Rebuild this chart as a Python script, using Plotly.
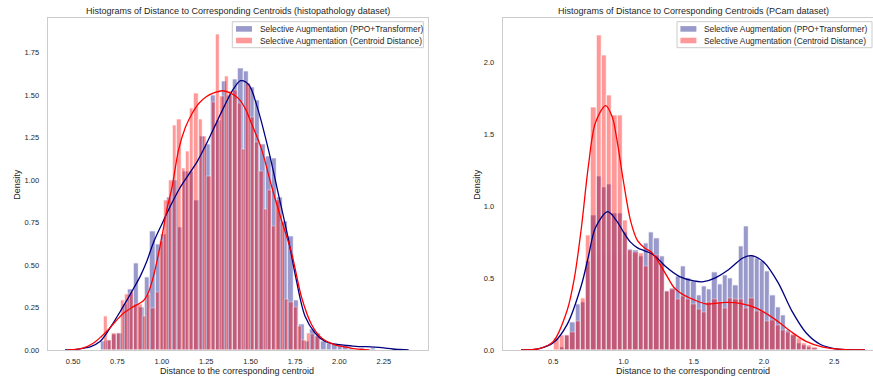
import plotly.graph_objects as go

W, H = 873, 379
FONT = "Liberation Sans, Arial, sans-serif"
TXT = "#262626"

# ---------------- data ----------------
label_ppo = "Selective Augmentation (PPO+Transformer)"
label_cd = "Selective Augmentation (Centroid Distance)"

# histopathology dataset (left)
left_blue_bin_start = 0.655
left_blue_bin_width = 0.031
left_blue_density = [
    0.05, 0.06, 0.09, 0.10, 0.27, 0.36, 0.51, 0.25, 0.43, 0.70,
    0.62, 0.68, 0.90, 1.00, 0.72, 1.05, 1.05, 0.88, 1.26, 1.21,
    1.50, 1.35, 1.58, 1.50, 1.59, 1.66, 1.64, 1.545, 1.47, 1.21,
    1.14, 1.13, 0.90, 0.76, 0.67, 0.29, 0.15, 0.05, 0.12, 0.10,
    0.05, 0.04, 0.04, 0.03, 0.03, 0.01, 0.0, 0.01, 0.0, 0.01,
]
left_red_bin_start = 0.672
left_red_bin_width = 0.0243
left_red_density = [
    0.196, 0.06, 0.10, 0.10, 0.29, 0.33, 0.34, 0.27, 0.27, 0.20,
    0.33, 0.245, 0.34, 0.64, 0.88, 1.00, 1.32, 1.36, 1.07, 1.17,
    1.42, 1.51, 1.36, 1.26, 1.02, 1.46, 1.86, 1.49, 1.61, 1.52,
    1.53, 1.45, 1.18, 1.57, 1.37, 1.22, 1.05, 0.83, 0.94, 0.73,
    0.88, 0.75, 0.30, 0.28, 0.25, 0.14, 0.06, 0.10, 0.095, 0.08,
]
left_blue_kde_x = [0.455, 0.52, 0.558, 0.60, 0.652, 0.69, 0.727, 0.765, 0.802, 0.84,
                   0.877, 0.915, 0.952, 1.00, 1.05, 1.10, 1.15, 1.20, 1.25, 1.30,
                   1.35, 1.40, 1.444, 1.49, 1.54, 1.60, 1.656, 1.713, 1.75, 1.806,
                   1.863, 1.92, 1.97, 2.013, 2.06, 2.107, 2.153, 2.20, 2.25, 2.30,
                   2.34, 2.39]
left_blue_kde_y = [0.0, 0.003, 0.01, 0.02, 0.05, 0.10, 0.16, 0.225, 0.29, 0.36,
                   0.43, 0.52, 0.63, 0.74, 0.85, 0.95, 1.03, 1.11, 1.21, 1.32,
                   1.43, 1.53, 1.584, 1.56, 1.42, 1.18, 0.92, 0.65, 0.45, 0.20,
                   0.10, 0.05, 0.035, 0.03, 0.025, 0.02, 0.02, 0.017, 0.012, 0.006,
                   0.003, 0.0]
left_red_kde_x = [0.47, 0.55, 0.614, 0.66, 0.708, 0.745, 0.783, 0.84, 0.896, 0.925,
                  0.952, 0.97, 0.99, 1.01, 1.027, 1.058, 1.095, 1.133, 1.17, 1.208,
                  1.25, 1.30, 1.343, 1.39, 1.431, 1.47, 1.506, 1.562, 1.619, 1.675,
                  1.731, 1.787, 1.843, 1.90, 1.975, 2.02, 2.07, 2.12, 2.17]
left_red_kde_y = [0.0, 0.01, 0.04, 0.08, 0.13, 0.175, 0.215, 0.255, 0.29, 0.34,
                  0.43, 0.51, 0.61, 0.72, 0.82, 0.96, 1.18, 1.31, 1.39, 1.45,
                  1.49, 1.515, 1.525, 1.51, 1.48, 1.42, 1.33, 1.18, 0.96, 0.76,
                  0.57, 0.31, 0.15, 0.07, 0.03, 0.02, 0.01, 0.004, 0.0]

# PCam dataset (right)
right_bin_start = 0.506
right_bin_width = 0.0375
right_blue_density = [
    0.0, 0.02, 0.10, 0.19, 0.32, 0.33, 0.62, 0.94, 1.21, 1.13,
    1.15, 0.95, 0.95, 0.82, 0.70, 0.69, 0.65, 0.74, 0.82, 0.78,
    0.65, 0.41, 0.43, 0.51, 0.58, 0.50, 0.48, 0.38, 0.44, 0.42,
    0.54, 0.46, 0.52, 0.50, 0.45, 0.72, 0.86, 0.66, 0.64, 0.62,
    0.55, 0.38, 0.30, 0.24, 0.14, 0.10, 0.05, 0.03, 0.02, 0.01,
]
right_red_density = [
    0.08, 0.10, 0.10, 0.12, 0.20, 0.36, 0.80, 1.69, 2.19, 2.05,
    1.77, 1.63, 1.63, 0.90, 0.69, 0.68, 0.67, 0.58, 0.67, 0.66,
    0.60, 0.41, 0.42, 0.35, 0.37, 0.35, 0.32, 0.28, 0.26, 0.33,
    0.35, 0.33, 0.29, 0.36, 0.35, 0.35, 0.29, 0.36, 0.27, 0.27,
    0.20, 0.21, 0.17, 0.14, 0.12, 0.11, 0.08, 0.05, 0.03, 0.02,
]
right_blue_kde_x = [0.27, 0.40, 0.50, 0.60, 0.70, 0.75, 0.80, 0.887, 0.95, 1.00,
                    1.05, 1.10, 1.15, 1.20, 1.25, 1.30, 1.40, 1.50, 1.57, 1.65,
                    1.75, 1.85, 1.913, 2.00, 2.10, 2.20, 2.30, 2.40, 2.50, 2.60, 2.72]
right_blue_kde_y = [0.0, 0.01, 0.05, 0.18, 0.45, 0.65, 0.85, 0.962, 0.90, 0.82,
                    0.75, 0.71, 0.69, 0.67, 0.63, 0.58, 0.51, 0.48, 0.475, 0.50,
                    0.56, 0.64, 0.656, 0.61, 0.47, 0.27, 0.12, 0.04, 0.01, 0.002, 0.0]
right_red_kde_x = [0.27, 0.40, 0.50, 0.60, 0.65, 0.70, 0.75, 0.80, 0.873, 0.92,
                   0.95, 1.00, 1.05, 1.10, 1.153, 1.20, 1.30, 1.355, 1.40, 1.50,
                   1.59, 1.70, 1.83, 1.95, 2.07, 2.19, 2.30, 2.42, 2.55, 2.72]
right_red_kde_y = [0.0, 0.01, 0.06, 0.28, 0.50, 0.85, 1.28, 1.58, 1.70, 1.62,
                   1.48, 1.17, 0.90, 0.76, 0.707, 0.68, 0.53, 0.44, 0.40, 0.35,
                   0.32, 0.33, 0.325, 0.29, 0.22, 0.13, 0.06, 0.02, 0.005, 0.0]


def centers(start, width, n):
    return [start + width * (i + 0.5) for i in range(n)]


def px_x(p):
    return p / W


def px_y(p):
    return (H - p) / H


fig = go.Figure()

panels = [
    ("x", "y", left_blue_bin_start, left_blue_bin_width, left_blue_density,
     left_red_bin_start, left_red_bin_width, left_red_density,
     left_blue_kde_x, left_blue_kde_y, left_red_kde_x, left_red_kde_y),
    ("x2", "y2", right_bin_start, right_bin_width, right_blue_density,
     right_bin_start, right_bin_width, right_red_density,
     right_blue_kde_x, right_blue_kde_y, right_red_kde_x, right_red_kde_y),
]

for (xa, ya, bs, bw, bd, rs, rw, rd, bkx, bky, rkx, rky) in panels:
    fig.add_trace(go.Bar(x=centers(bs, bw, len(bd)), y=bd, width=bw,
                         marker=dict(color="#000080", line=dict(color="white", width=0.8)),
                         opacity=0.4, name=label_ppo, showlegend=False,
                         xaxis=xa, yaxis=ya))
    fig.add_trace(go.Bar(x=centers(rs, rw, len(rd)), y=rd, width=rw,
                         marker=dict(color="#ff0000", line=dict(color="white", width=0.8)),
                         opacity=0.4, name=label_cd, showlegend=False,
                         xaxis=xa, yaxis=ya))
    fig.add_trace(go.Scatter(x=bkx, y=bky, mode="lines",
                             line=dict(color="#000080", width=1.3, shape="spline", smoothing=0.9),
                             showlegend=False, xaxis=xa, yaxis=ya))
    fig.add_trace(go.Scatter(x=rkx, y=rky, mode="lines",
                             line=dict(color="#ff0000", width=1.3, shape="spline", smoothing=0.9),
                             showlegend=False, xaxis=xa, yaxis=ya))

axis_common = dict(showgrid=False, zeroline=False, showline=True,
                   linecolor="#cccccc", linewidth=1, ticks="",
                   tickfont=dict(family=FONT, size=7.5, color=TXT))

ydom = [px_y(350), px_y(18.3)]
fig.update_layout(
    width=W, height=H,
    margin=dict(l=0, r=0, t=0, b=0, autoexpand=False),
    paper_bgcolor="white", plot_bgcolor="white",
    barmode="overlay", bargap=0,
    xaxis=dict(domain=[px_x(47.7), px_x(427.7)], range=[0.3575, 2.4972], anchor="y", mirror=True,
               tick0=0, dtick=0.25, tickformat=".2f", ticklabelstandoff=4, **axis_common),
    yaxis=dict(domain=ydom, range=[0, 1.9512], anchor="x", mirror=True,
               tick0=0, dtick=0.25, tickformat=".2f", ticklabelstandoff=6, **axis_common),
    xaxis2=dict(domain=[px_x(502.7), 1.0], range=[0.1396, 2.777], anchor="y2", mirror=True,
                tick0=0, dtick=0.5, tickformat=".1f", ticklabelstandoff=4, **axis_common),
    # the right panel's frame runs past the picture's right edge in the reference
    yaxis2=dict(domain=ydom, range=[0, 2.3067], anchor="x2", mirror=False,
                tick0=0, dtick=0.5, tickformat=".1f", ticklabelstandoff=6, **axis_common),
)

annotations = []
shapes = []


def text(x, y, s, size, xanchor="center", angle=0):
    annotations.append(dict(x=px_x(x), y=px_y(y), xref="paper", yref="paper", text=s,
                            showarrow=False, xanchor=xanchor, yanchor="middle",
                            textangle=angle, borderpad=0,
                            font=dict(family=FONT, size=size, color=TXT)))


# titles and axis labels
text(237.7, 11, "Histograms of Distance to Corresponding Centroids (histopathology dataset)", 9)
text(693.2, 11, "Histograms of Distance to Corresponding Centroids (PCam dataset)", 9)
text(237.5, 371, "Distance to the corresponding centroid", 9)
text(692.7, 371, "Distance to the corresponding centroid", 9)
text(16.7, 184, "Density", 9, angle=-90)
text(476.7, 184, "Density", 9, angle=-90)

# legends
for (bx0, bx1, patch_x0, txt_x) in [(232.3, 423.3, 236.0, 258.7), (677.0, 872.0, 680.4, 703.4)]:
    shapes.append(dict(type="rect", xref="paper", yref="paper",
                       x0=px_x(bx0), x1=px_x(bx1), y0=px_y(47.7), y1=px_y(21.7),
                       fillcolor="rgba(255,255,255,0.8)", line=dict(color="#cccccc", width=1)))
    for (cy, col, lab) in [(28.9, "rgba(0,0,128,0.4)", label_ppo),
                           (40.5, "rgba(255,0,0,0.4)", label_cd)]:
        shapes.append(dict(type="rect", xref="paper", yref="paper",
                           x0=px_x(patch_x0), x1=px_x(patch_x0 + 16), y0=px_y(cy + 2.8), y1=px_y(cy - 2.8),
                           fillcolor=col, line=dict(width=0)))
        text(txt_x, cy, lab, 8.4, xanchor="left")

fig.update_layout(annotations=annotations, shapes=shapes)

fig.write_html("out.html", config={"displayModeBar": False},
               post_script="document.body.style.margin='0';")
